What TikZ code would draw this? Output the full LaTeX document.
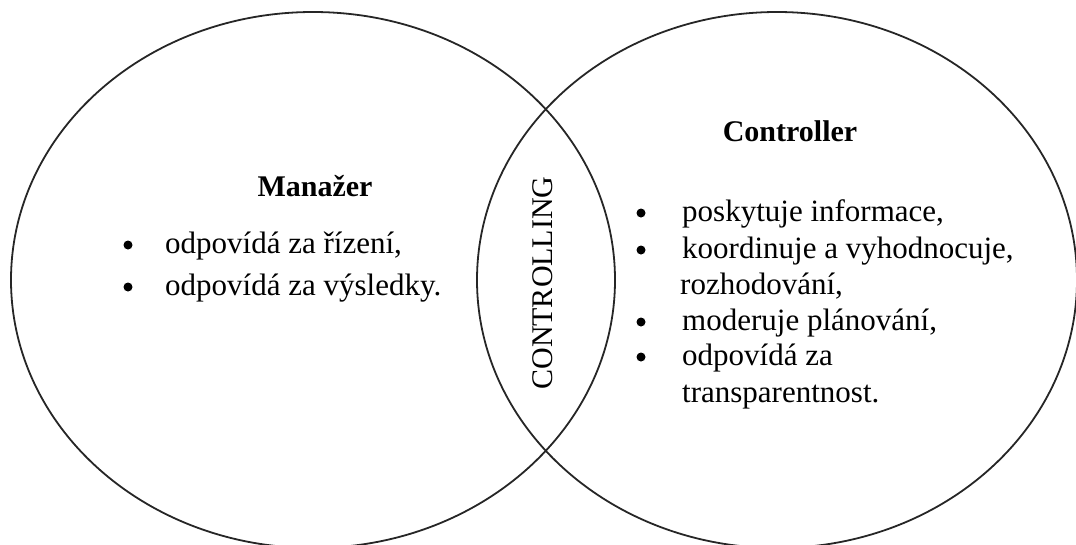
\documentclass[tikz,border=0pt]{standalone}
\usepackage{fontspec}
\setmainfont{Liberation Serif}
\begin{document}
\begin{tikzpicture}[x=1pt,y=-1pt,
  ring/.style={draw=black!85,line width=1.8pt},
  body/.style={inner sep=0pt,anchor=base west,font=\fontsize{31}{37}\selectfont},
  head/.style={inner sep=0pt,anchor=base,font=\fontsize{30}{36}\selectfont\bfseries},
  dot/.style={circle,fill=black,inner sep=0pt,minimum size=9pt}]
\useasboundingbox (0,0) rectangle (1076,544);
% the two overlapping sets
\draw[ring] (313,280) ellipse [x radius=302,y radius=268];
\draw[ring] (777,280) ellipse [x radius=300,y radius=268];
% shared part
\node[rotate=90,inner sep=0pt,font=\fontsize{30}{36}\selectfont] (ctl) at (543,283) {CONTROLLING};
% left set
\node[head] (man) at (315,196) {Manažer};
\node[dot] (m1) at (128,245) {};
\node[body] (mt1) at (165,253) {odpovídá za řízení,};
\node[dot] (m2) at (128,287) {};
\node[body] (mt2) at (165,295) {odpovídá za výsledky.};
% right set
\node[head] (con) at (790,141) {Controller};
\node[dot] (c1) at (641,213) {};
\node[body] (ct1) at (682,221) {poskytuje informace,};
\node[dot] (c2) at (641,250) {};
\node[body] (ct2) at (682,258) {koordinuje a vyhodnocuje,};
\node[body] (ct3) at (680,294) {rozhodování,};
\node[dot] (c3) at (641,322) {};
\node[body] (ct4) at (682,330) {moderuje plánování,};
\node[dot] (c4) at (641,357) {};
\node[body] (ct5) at (682,365) {odpovídá za};
\node[body] (ct6) at (682,402) {transparentnost.};
\end{tikzpicture}
\end{document}
